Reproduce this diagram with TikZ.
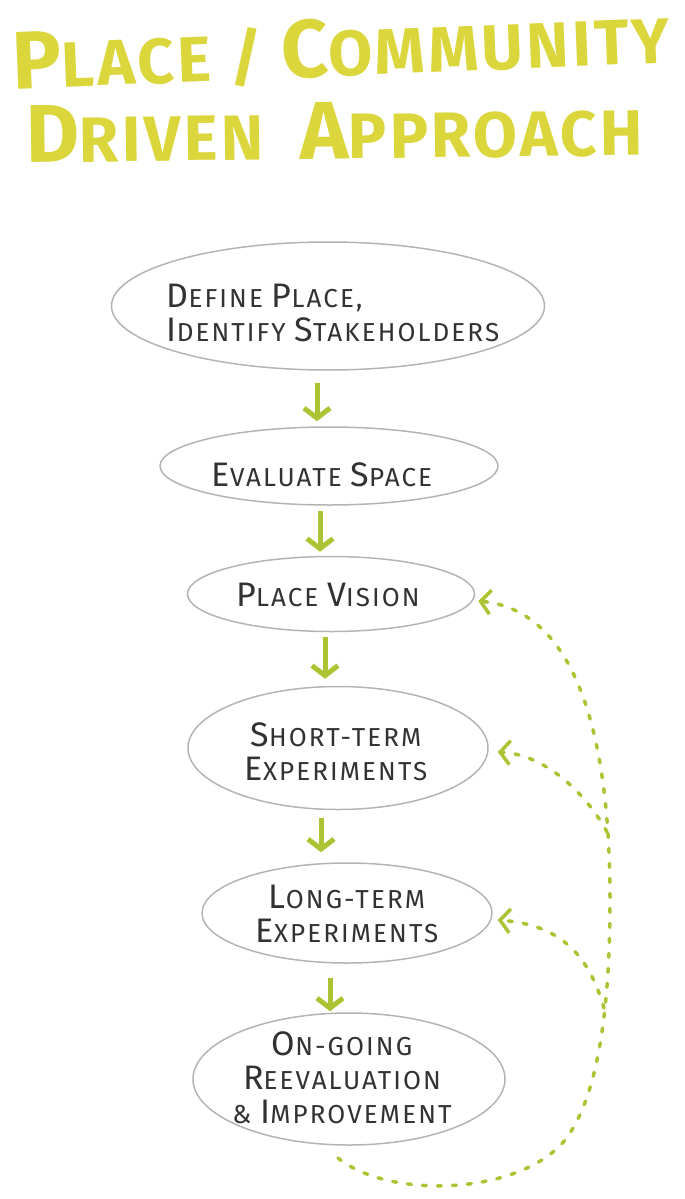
\documentclass[tikz,border=0pt]{standalone}
\usepackage{fontspec}
\setmainfont{Fira Sans}
\newfontfamily\handf{Fira Sans}[LetterSpace=8]
\newfontfamily\ttlf{Fira Sans}[LetterSpace=5]
\usetikzlibrary{shapes.geometric,arrows.meta}
\definecolor{ttl}{RGB}{218,214,60}
\definecolor{arr}{RGB}{172,196,52}
\definecolor{ink}{RGB}{50,50,50}
\definecolor{rim}{RGB}{180,180,180}
\newcommand\Bc{\fontsize{34}{34}\selectfont}
\newcommand\Tb{\fontsize{82}{82}\selectfont}
\begin{document}
\begin{tikzpicture}[x=1pt,y=-1pt,
  stage/.style={ellipse, draw=rim, line width=1.5pt, inner sep=0pt},
  lbl/.style={font=\handf\fontsize{26}{34}\selectfont, text=ink, align=center, inner sep=0pt},
  ttlstyle/.style={text=ttl, font=\ttlf\bfseries\fontsize{64}{64}\selectfont, anchor=base, inner sep=0pt},
  flow/.style={draw=arr, line width=5pt, -{Straight Barb[length=10pt,width=26pt]}},
  fb/.style={draw=arr, line width=3.5pt, line cap=round, dash pattern=on 4pt off 11pt, -{Straight Barb[length=10pt,width=24pt]}}
]
\fill[white] (0,0) rectangle (685,1199);
\path[use as bounding box] (0,0) rectangle (685,1199);

% title
\node[ttlstyle, rotate=2.3] (t1) at (342,76) {{\Tb P}LACE / {\Tb C}OMMUNITY};
\node[ttlstyle, rotate=0.7] (t2) at (335,159) {{\Tb D}RIVEN\ \ {\Tb A}PPROACH};

% stages
\node[stage, minimum width=433pt, minimum height=128pt] (e1) at (328,306) {};
\node[stage, minimum width=338pt, minimum height=78pt] (e2) at (329,466) {};
\node[stage, minimum width=287pt, minimum height=75pt] (e3) at (331,594) {};
\node[stage, minimum width=300pt, minimum height=123pt] (e4) at (338,748) {};
\node[stage, minimum width=290pt, minimum height=100pt] (e5) at (347,913) {};
\node[stage, minimum width=312pt, minimum height=132pt] (e6) at (349,1079) {};

\node[lbl, align=left] (e1t) at (333,313) {{\Bc D}EFINE {\Bc P}LACE,\\{\Bc I}DENTIFY {\Bc S}TAKEHOLDERS};
\node[lbl] (e2t) at (322,475) {{\Bc E}VALUATE {\Bc S}PACE};
\node[lbl] (e3t) at (328,595) {{\Bc P}LACE {\Bc V}ISION};
\node[lbl] (e4t) at (336,752) {{\Bc S}HORT-TERM\\{\Bc E}XPERIMENTS};
\node[lbl] (e5t) at (347,914) {{\Bc L}ONG-TERM\\{\Bc E}XPERIMENTS};
\node[lbl] (e6t) at (342,1078) {{\Bc O}N-GOING\\{\Bc R}EEVALUATION\\\&{} {\Bc I}MPROVEMENT};

% flow arrows
\draw[flow, shorten <=12pt, shorten >=5pt] ([xshift=-11pt]e1.south) -- ([xshift=-12pt]e2.north);
\draw[flow, shorten <=5pt, shorten >=4pt] ([xshift=-9pt]e2.south) -- ([xshift=-11pt]e3.north);
\draw[flow, shorten <=5pt, shorten >=7pt] ([xshift=-6pt]e3.south) -- ([xshift=-13pt]e4.north);
\draw[flow, shorten <=8pt, shorten >=10pt] ([xshift=-17pt]e4.south) -- ([xshift=-26pt]e5.north);
\draw[flow, shorten <=14pt, shorten >=1pt] ([xshift=-17pt]e5.south) -- ([xshift=-19pt]e6.north);

% feedback loop
\coordinate (lp) at (338,1158);
\coordinate (jlt) at (604,1008);
\coordinate (jst) at (607,832);
\draw[fb] (lp) .. controls (390,1200) and (520,1195) .. (565,1140)
  .. controls (600,1095) and (610,1000) .. (610,900)
  .. controls (610,720) and (570,610) .. ([xshift=3pt,yshift=-7pt]e3.east);
\draw[fb] (jlt) .. controls (590,960) and (565,925) .. ([xshift=5pt,yshift=-7pt]e5.east);
\draw[fb] (jst) .. controls (590,800) and (550,755) .. ([xshift=9pt,yshift=-4pt]e4.east);
\end{tikzpicture}
\end{document}
